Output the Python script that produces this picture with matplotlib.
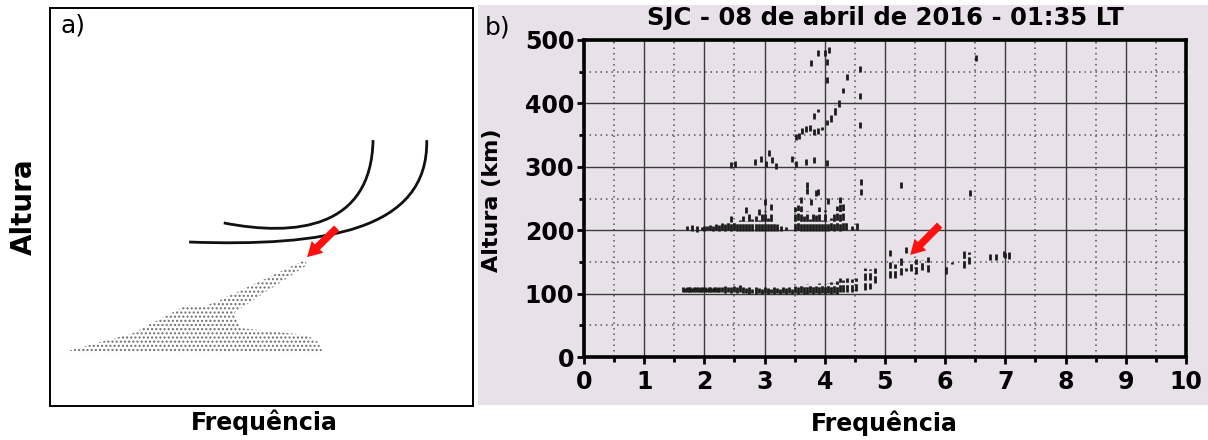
import matplotlib.pyplot as plt
from matplotlib.patches import Rectangle, Polygon, PathPatch
from matplotlib.path import Path
from matplotlib.ticker import MultipleLocator

# ---- panel b data: ionogram echoes (frequency [MHz], height [km]) ----
# E-region trace, vertical echo bars: freq, lower height, upper height
e_freq = [1.65, 1.68, 1.71, 1.74, 1.77, 1.80, 1.83, 1.86, 1.89, 1.92, 1.95, 1.98,
          2.01, 2.04, 2.07, 2.10, 2.13, 2.16, 2.19, 2.22, 2.25, 2.30, 2.35, 2.40,
          2.45, 2.50, 2.55, 2.60, 2.65, 2.70, 2.75, 2.80, 2.85, 2.90, 2.95, 3.00,
          3.05, 3.10, 3.15, 3.20, 3.25, 3.30, 3.35, 3.40, 3.45, 3.50, 3.55, 3.60,
          3.65, 3.70, 3.75, 3.80, 3.85, 3.90, 3.95, 4.00, 4.05, 4.10, 4.15, 4.20,
          4.25, 4.30, 4.37, 4.45, 4.52, 4.67, 4.76, 4.83]
e_low = [103, 103, 102, 103, 102, 103, 102, 103, 102, 103, 102, 103,
         102, 103, 102, 103, 102, 103, 102, 103, 102, 102, 101, 102,
         101, 102, 101, 102, 101, 101, 100, 101, 100, 101, 100, 101,
         100, 101, 100, 101, 100, 101, 100, 101, 100, 101, 100, 101,
         100, 100, 101, 100, 101, 100, 101, 100, 101, 100, 101, 100,
         102, 103, 103, 103, 104, 106, 121, 117]
e_high = [110, 109, 110, 111, 110, 109, 110, 111, 110, 109, 110, 111,
          110, 109, 111, 110, 109, 111, 110, 109, 111, 110, 112, 110,
          111, 112, 110, 113, 111, 109, 110, 108, 110, 109, 108, 110,
          109, 108, 110, 109, 108, 110, 109, 111, 108, 112, 110, 114,
          112, 115, 113, 114, 112, 116, 113, 115, 117, 118, 116, 120,
          124, 122, 124, 123, 125, 140, 139, 140]

# F-region (oblique / spread) echo bars near 100-170 km above 5 MHz
f1_freq = [5.08, 5.17, 5.26, 5.35, 5.44, 5.52, 5.62, 5.72, 6.01, 6.11, 6.31, 6.40,
           7.00, 7.06]
f1_low = [124, 124, 129, 135, 135, 131, 137, 134, 131, 146, 140, 147, 156, 154]
f1_high = [150, 147, 156, 140, 152, 155, 153, 157, 144, 150, 169, 166, 164, 166]

# second-hop trace near 200 km
f2_freq = [1.71, 1.96, 2.00, 2.05, 2.10, 2.15, 2.20, 2.25, 2.30, 2.35, 2.40, 2.45,
           2.50, 2.55, 2.60, 2.65, 2.70, 2.75, 2.80, 2.85, 2.90, 2.95, 3.00, 3.05,
           3.10, 3.15, 3.20, 3.28, 3.35, 3.50, 3.55, 3.60, 3.65, 3.70, 3.75, 3.80,
           3.85, 3.90, 3.95, 4.00, 4.05, 4.10, 4.15, 4.20, 4.25, 4.30, 4.35, 4.45,
           4.53]
f2_low = [200, 200, 199, 200, 200, 199, 200, 199, 200, 199, 200, 199,
          200, 199, 198, 199, 198, 199, 198, 199, 198, 199, 198, 199,
          198, 199, 199, 199, 200, 199, 200, 198, 199, 198, 199, 198,
          199, 198, 199, 198, 199, 200, 199, 200, 199, 200, 201, 201,
          200]
f2_high = [206, 205, 207, 206, 208, 207, 210, 208, 212, 210, 214, 212,
           215, 213, 216, 222, 214, 226, 218, 222, 216, 225, 230, 220,
           226, 212, 210, 206, 205, 236, 240, 238, 222, 230, 218, 228,
           224, 236, 216, 232, 214, 220, 226, 238, 250, 242, 214, 206,
           211]

# isolated echoes
pt_freq = [1.80, 1.88, 2.45, 2.70, 2.90, 3.00, 3.10, 3.60, 3.70, 3.70, 3.78, 3.85,
           3.89, 4.05, 4.25, 4.60, 4.60, 5.26, 6.41, 4.76, 5.08, 5.35, 6.74, 6.85,
           6.97,
           2.44, 2.51, 2.84, 2.94, 3.03, 3.08, 3.13, 3.19, 3.45, 3.52, 3.69, 3.82,
           4.03, 3.52, 3.58, 3.63, 3.69, 3.75, 3.82, 3.89, 3.77, 3.89, 4.00, 4.07,
           4.03, 4.03, 4.37, 4.59, 4.59, 4.59, 6.51]
pt_h = [203, 202, 218, 232, 228, 245, 236, 248, 272, 262, 245, 258,
        261, 246, 248, 276, 261, 272, 258, 112, 164, 169, 157, 157,
        162,
        303, 305, 308, 312, 304, 322, 310, 302, 312, 305, 308, 311,
        306, 347, 349, 357, 360, 361, 355, 357, 463, 479, 480, 484,
        465, 437, 441, 455, 411, 366, 472]

# rising trace between 350 and 430 km
up_freq = [3.82, 3.89, 3.96, 4.03, 4.10, 4.17, 4.24, 4.31]
up_low = [376, 387, 358, 366, 371, 382, 394, 416]
up_high = [385, 391, 363, 374, 382, 397, 405, 424]

# ---- panel a data: schematic (arbitrary units 0-100) ----
curve_a = [(41.1, 46.0), (58.0, 42.5), (76.0, 44.5), (76.4, 66.8)]
curve_b = [(32.9, 41.2), (65.0, 40.0), (89.5, 44.0), (89.1, 66.8)]
stipple = [(2.4, 13.3), (19.6, 18.3), (32.4, 25.4), (36.6, 25.1), (40.2, 26.6),
           (60.3, 36.7), (60.8, 35.4), (43.7, 23.6), (44.9, 19.6), (60.8, 17.8),
           (63.4, 16.1), (64.5, 13.6), (64.5, 13.3)]

BOLD = dict(family="DejaVu Sans", weight="bold")
ECHO = "#1c1c1c"
LAVENDER = "#e9e1ea"
ARROW = dict(arrowstyle="simple,head_length=0.75,head_width=0.85,tail_width=0.38",
             mutation_scale=14, color="#ff1010", lw=0, shrinkA=0, shrinkB=0)

fig = plt.figure(figsize=(12.08, 4.40), dpi=100)

# lavender background of panel b
fig.patches.append(Rectangle((0.3957, 0.0795), 0.6043, 0.909, transform=fig.transFigure,
                             facecolor=LAVENDER, edgecolor="none", zorder=-5))

# ---------------- panel a ----------------
ax_a = fig.add_axes([0.0414, 0.0773, 0.350, 0.9045])
ax_a.set_xlim(0, 100)
ax_a.set_ylim(0, 100)
ax_a.set_xticks([])
ax_a.set_yticks([])
for sp in ax_a.spines.values():
    sp.set_linewidth(1.4)

plt.rcParams["hatch.linewidth"] = 1.0
ax_a.add_patch(Polygon(stipple, closed=True, facecolor="none", edgecolor="#6e6e6e",
                       hatch="....", linewidth=0))
for ctrl in (curve_a, curve_b):
    path = Path(ctrl, [Path.MOVETO, Path.CURVE4, Path.CURVE4, Path.CURVE4])
    ax_a.add_patch(PathPatch(path, facecolor="none", edgecolor="#111111", lw=2.0))
ax_a.annotate("", xy=(60.8, 37.4), xytext=(67.8, 44.7), arrowprops=ARROW)
ax_a.text(0.024, 0.985, "a)", transform=ax_a.transAxes, fontsize=18, va="top", ha="left")
fig.text(0.020, 0.53, "Altura", rotation=90, fontsize=20, ha="center", va="center", **BOLD)
fig.text(0.219, 0.041, "Frequência", fontsize=17, ha="center", va="center", **BOLD)

# ---------------- panel b ----------------
ax_b = fig.add_axes([0.4834, 0.1886, 0.4983, 0.7205])
ax_b.set_facecolor(LAVENDER)
ax_b.set_xlim(0, 10)
ax_b.set_ylim(0, 500)
ax_b.xaxis.set_major_locator(MultipleLocator(1))
ax_b.xaxis.set_minor_locator(MultipleLocator(0.5))
ax_b.yaxis.set_major_locator(MultipleLocator(100))
ax_b.yaxis.set_minor_locator(MultipleLocator(50))
ax_b.grid(which="major", color="#3a3a3a", lw=1.0, ls="-")
ax_b.grid(which="minor", color="#555555", lw=1.1, ls=(0, (1, 2.6)))
ax_b.set_axisbelow(True)
for sp in ax_b.spines.values():
    sp.set_linewidth(2.6)
ax_b.tick_params(which="major", direction="out", length=5, width=2, pad=2)
ax_b.tick_params(which="minor", direction="out", length=3.5, width=2)
ax_b.tick_params(axis="x", which="major", pad=4)
for lab in ax_b.get_xticklabels() + ax_b.get_yticklabels():
    lab.set_fontsize(17)
    lab.set_fontweight("bold")

dash = (0, (2.6, 0.9))
ax_b.vlines(e_freq, e_low, e_high, colors=ECHO, lw=2.0, linestyles=dash, zorder=3)
ax_b.vlines(f1_freq, f1_low, f1_high, colors=ECHO, lw=2.0, linestyles=dash, zorder=3)
ax_b.vlines(f2_freq, f2_low, f2_high, colors=ECHO, lw=2.0, linestyles=dash, zorder=3)
ax_b.vlines(up_freq, up_low, up_high, colors=ECHO, lw=2.0, linestyles=dash, zorder=3)
ax_b.plot(pt_freq, pt_h, ls="none", marker="|", ms=5, mew=2.0, color=ECHO, zorder=3)

ax_b.annotate("", xy=(5.42, 161), xytext=(5.91, 208), arrowprops=ARROW, zorder=4)

fig.text(0.733, 0.959, "SJC - 08 de abril de 2016 - 01:35 LT", fontsize=17.5,
         ha="center", va="center", **BOLD)
fig.text(0.4015, 0.965, "b)", fontsize=18, ha="left", va="top")
fig.text(0.407, 0.545, "Altura (km)", rotation=90, fontsize=16, ha="center", va="center", **BOLD)
fig.text(0.732, 0.039, "Frequência", fontsize=17, ha="center", va="center", **BOLD)

fig.savefig("out.png", dpi=100)
